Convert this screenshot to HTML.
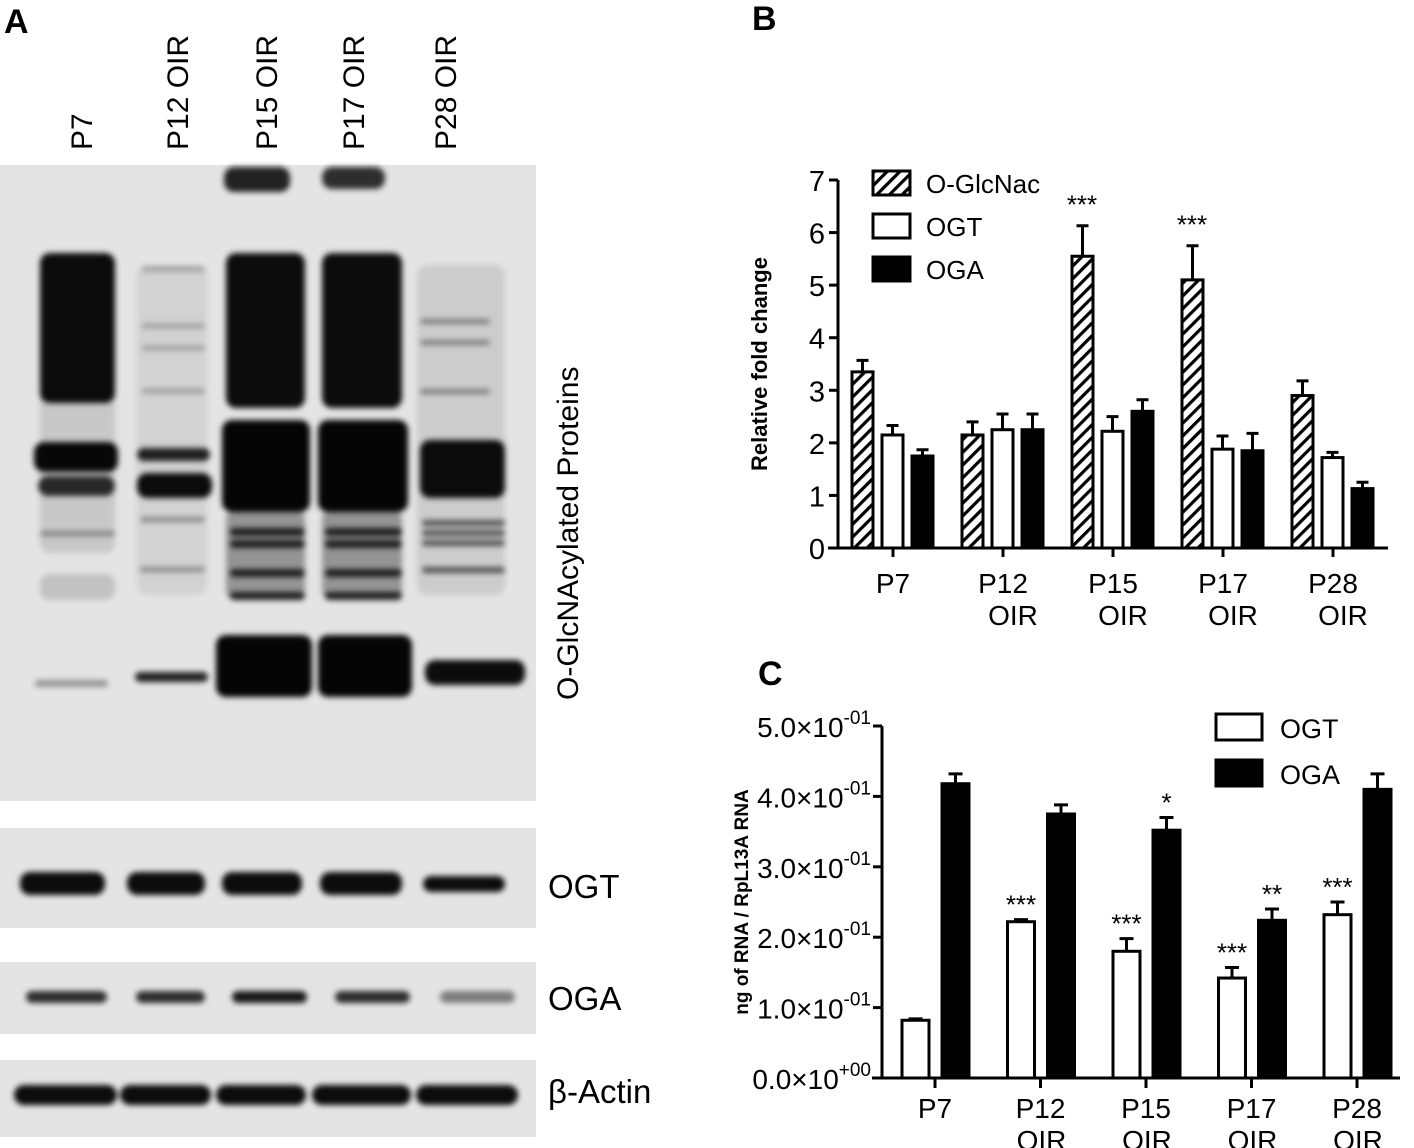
<!DOCTYPE html>
<html><head><meta charset="utf-8">
<style>
html,body{margin:0;padding:0;background:#fff;}
svg{display:block;font-family:"Liberation Sans",Arial,sans-serif;}
</style></head>
<body>
<svg id="fig" width="1414" height="1148" viewBox="0 0 1414 1148" xmlns="http://www.w3.org/2000/svg">
<defs>
  <filter id="b2" x="-20%" y="-50%" width="140%" height="200%"><feGaussianBlur stdDeviation="3"/></filter>
  <pattern id="hatch" patternUnits="userSpaceOnUse" width="9" height="9" patternTransform="rotate(45)">
    <rect width="9" height="9" fill="#fff"/>
    <rect x="0" y="0" width="3.2" height="9" fill="#000"/>
  </pattern>
</defs>

<!-- Panel A -->
<text x="4" y="33" font-size="34" font-weight="bold">A</text>
<g font-size="30">
  <text transform="translate(92,150) rotate(-90)">P7</text>
  <text transform="translate(188,150) rotate(-90)">P12 OIR</text>
  <text transform="translate(277,150) rotate(-90)">P15 OIR</text>
  <text transform="translate(364,150) rotate(-90)">P17 OIR</text>
  <text transform="translate(456,150) rotate(-90)">P28 OIR</text>
</g>

<g>
  <rect x="0" y="165" width="536" height="636" fill="#e4e4e4"/>
  <g id="mainBands" filter="url(#b2)"></g>
</g>
<g>
  <rect x="0" y="828" width="536" height="100" fill="#e4e4e4"/>
  <g id="ogtBands" filter="url(#b2)"></g>
</g>
<g>
  <rect x="0" y="962" width="536" height="72" fill="#e4e4e4"/>
  <g id="ogaBands" filter="url(#b2)"></g>
</g>
<g>
  <rect x="0" y="1060" width="536" height="77" fill="#e4e4e4"/>
  <g id="actinBands" filter="url(#b2)"></g>
</g>

<text transform="translate(578,700) rotate(-90)" font-size="30">O-GlcNAcylated Proteins</text>
<text x="548" y="898" font-size="33">OGT</text>
<text x="548" y="1010" font-size="33">OGA</text>
<text x="548" y="1103" font-size="33">β-Actin</text>

<!-- Panel B -->
<text x="752" y="30" font-size="34" font-weight="bold">B</text>
<g id="chartB"></g>

<!-- Panel C -->
<text x="758" y="685" font-size="34" font-weight="bold">C</text>
<g id="chartC"></g>
</svg>

<script>
// ---------- Chart B data ----------
const catsB = ["P7","P12 OIR","P15 OIR","P17 OIR","P28 OIR"];
const glcnacB = [3.35, 2.15, 5.55, 5.1, 2.9];
const glcnacErrB = [0.22, 0.25, 0.58, 0.65, 0.28];
const ogtB = [2.15, 2.25, 2.22, 1.88, 1.72];
const ogtErrB = [0.18, 0.3, 0.28, 0.25, 0.1];
const ogaB = [1.75, 2.25, 2.6, 1.85, 1.13];
const ogaErrB = [0.12, 0.3, 0.22, 0.33, 0.12];
const ticksB = [0,1,2,3,4,5,6,7];
const starsB = ["", "", "***", "***", ""];

// ---------- Chart C data ----------
const catsC = ["P7","P12 OIR","P15 OIR","P17 OIR","P28 OIR"];
const ogtC = [0.082, 0.222, 0.18, 0.142, 0.232];
const ogtErrC = [0.002, 0.003, 0.018, 0.015, 0.018];
const ogaC = [0.418, 0.375, 0.352, 0.224, 0.41];
const ogaErrC = [0.014, 0.013, 0.018, 0.016, 0.022];
const ticksC = [0, 0.1, 0.2, 0.3, 0.4, 0.5];
const tickLabelsC = ["0.0×10","1.0×10","2.0×10","3.0×10","4.0×10","5.0×10"];
const tickExpC = ["+00","-01","-01","-01","-01","-01"];
const ogtStarsC = ["", "***", "***", "***", "***"];
const ogaStarsC = ["", "", "*", "**", ""];

const NS = "http://www.w3.org/2000/svg";
function mk(tag, attrs, parent){
  const e = document.createElementNS(NS, tag);
  for (const k in attrs) e.setAttribute(k, attrs[k]);
  parent.appendChild(e);
  return e;
}

// ---------- Blot bands (image, not data) ----------
const main = document.getElementById('mainBands');
function band(g, x1, x2, y, h, op, name){
  const r = mk('rect', {x:x1, y:y, width:x2-x1, height:h, rx:Math.min(h/2,10), fill:'#000', opacity:op}, g);
  
  
}
band(main,40,115,253,300,0.12,'lane-smear');
band(main,137,207,265,330,0.08,'lane-smear');
band(main,417,505,265,330,0.1,'lane-smear');
band(main,224,290,167,25,0.85,'well-band');
band(main,322,385,167,22,0.8,'well-band');
band(main,40,115,253,150,0.95,'dense-band');
band(main,226,305,253,155,0.95,'dense-band');
band(main,322,402,253,155,0.95,'dense-band');
[267,324,346,389].forEach(y=>band(main,142,205,y,4,0.3,'faint-band'));
[319,340,389].forEach(y=>band(main,420,490,y,5,0.4,'faint-band'));
band(main,34,118,442,30,0.97,'mid-band');
band(main,38,115,476,20,0.8,'mid-band');
band(main,137,210,448,13,0.85,'mid-band');
band(main,137,212,473,25,0.95,'mid-band');
band(main,222,310,420,92,0.98,'mid-band');
band(main,318,408,420,92,0.98,'mid-band');
band(main,420,505,440,58,0.95,'mid-band');
band(main,40,115,531,5,0.35,'low-band');
band(main,40,115,574,26,0.15,'low-band');
[517,567].forEach(y=>band(main,140,205,y,5,0.35,'low-band'));
[528,540,569,592].forEach(y=>{band(main,230,305,y,8,0.8,'low-band');band(main,325,402,y,8,0.8,'low-band');});
band(main,226,305,510,90,0.35,'low-band');
band(main,322,402,510,90,0.35,'low-band');
[520,530,540,567].forEach(y=>band(main,422,505,y,6,0.6,'low-band'));
band(main,216,312,635,62,0.98,'bottom-band');
band(main,318,412,635,62,0.98,'bottom-band');
band(main,425,525,660,25,0.95,'bottom-band');
band(main,135,208,672,10,0.85,'bottom-band');
band(main,35,108,680,7,0.35,'bottom-band');

const ogtG = document.getElementById('ogtBands');
[[20,105],[127,205],[222,302],[320,402],[423,505]].forEach((l,i)=>band(ogtG,l[0],l[1],i==4?876:872,i==4?16:23,0.95,'ogt-band'));
const ogaG = document.getElementById('ogaBands');
[[26,107,0.8],[136,205,0.8],[232,307,0.9],[335,410,0.8],[440,515,0.45]].forEach(l=>band(ogaG,l[0],l[1],991,12,l[2],'oga-band'));
const actG = document.getElementById('actinBands');
[[14,117],[120,211],[216,306],[312,411],[416,518]].forEach(l=>band(actG,l[0],l[1],1085,20,0.95,'actin-band'));

// ---------- Chart B ----------
(function(){
  const g = document.getElementById('chartB');
  const y0 = 548, yTop = 180, vMax = 7;
  const yS = v => y0 - v*(y0-yTop)/vMax;
  const xC = i => 893 + i*110;
  const ya = mk('line',{x1:838,y1:yTop,x2:838,y2:y0,stroke:'#000','stroke-width':3},g);
   
  const xa = mk('line',{x1:828,y1:y0,x2:1388,y2:y0,stroke:'#000','stroke-width':3},g);
   
  ticksB.forEach(t=>{
    const y = yS(t);
    const tk = mk('line',{x1:829,y1:y,x2:838,y2:y,stroke:'#000','stroke-width':3},g);
     
    const tl = mk('text',{x:825,y:y+11,'font-size':29,'text-anchor':'end'},g);
    tl.textContent = t;
     
  });
  const yt = mk('text',{transform:'translate(767,364) rotate(-90)','font-size':22,'font-weight':'bold','text-anchor':'middle'},g);
  yt.textContent = 'Relative fold change';
   
  catsB.forEach((c,i)=>{
    const x = xC(i);
    const tk = mk('line',{x1:x,y1:y0,x2:x,y2:y0+9,stroke:'#000','stroke-width':3},g);
     
    c.split(' ').forEach((p,j)=>{
      const t = mk('text',{x:x+(j==0?0:10),y:593+j*32,'font-size':28,'text-anchor':'middle'},g);
      t.textContent = p;
       
    });
  });
  const series = [[glcnacB,glcnacErrB,'url(#hatch)',-41,'bar-o-glcnac'],[ogtB,ogtErrB,'#fff',-11,'bar-ogt'],[ogaB,ogaErrB,'#000',19,'bar-oga']];
  series.forEach(s=>{
    s[0].forEach((v,i)=>{
      const x = xC(i)+s[3], w = 21, cx = x+w/2;
      const e = mk('path',{d:`M${cx},${yS(v)} V${yS(v+s[1][i])} M${cx-6},${yS(v+s[1][i])} H${cx+6}`,stroke:'#000','stroke-width':3,fill:'none'},g);
       
      const r = mk('rect',{x:x,y:yS(v),width:w,height:y0-yS(v),fill:s[2],stroke:'#000','stroke-width':3},g);
       
    });
  });
  starsB.forEach((s,i)=>{
    if(!s) return;
    const t = mk('text',{x:xC(i)-31,y:yS(glcnacB[i]+glcnacErrB[i])-12,'font-size':26,'text-anchor':'middle'},g);
    t.textContent = s;
     
  });
  const leg = [['url(#hatch)','O-GlcNac',171],['#fff','OGT',214],['#000','OGA',257]];
  leg.forEach(l=>{
    const r = mk('rect',{x:873,y:l[2],width:37,height:24,fill:l[0],stroke:'#000','stroke-width':3},g);
     
    const t = mk('text',{x:926,y:l[2]+22,'font-size':26},g);
    t.textContent = l[1];
     
  });
})();

// ---------- Chart C ----------
(function(){
  const g = document.getElementById('chartC');
  const y0 = 1078, yTop = 726, vMax = 0.5;
  const yS = v => y0 - v*(y0-yTop)/vMax;
  const xC = i => 935 + i*105.5;
  const ya = mk('line',{x1:882,y1:yTop,x2:882,y2:y0,stroke:'#000','stroke-width':3},g);
   
  const xa = mk('line',{x1:872,y1:y0,x2:1400,y2:y0,stroke:'#000','stroke-width':3},g);
   
  ticksC.forEach((t,k)=>{
    const y = yS(t);
    const tk = mk('line',{x1:873,y1:y,x2:882,y2:y,stroke:'#000','stroke-width':3},g);
     
    const tl = mk('text',{x:871,y:y+11,'font-size':28,'text-anchor':'end'},g);
    const a = document.createElementNS(NS,'tspan'); a.textContent = tickLabelsC[k]; tl.appendChild(a);
    const b = document.createElementNS(NS,'tspan'); b.setAttribute('dy','-13'); b.setAttribute('font-size','19'); b.textContent = tickExpC[k]; tl.appendChild(b);
     
  });
  const yt = mk('text',{transform:'translate(748,902) rotate(-90)','font-size':19,'font-weight':'bold','text-anchor':'middle'},g);
  yt.textContent = 'ng of RNA / RpL13A RNA';
   
  catsC.forEach((c,i)=>{
    const x = xC(i);
    const tk = mk('line',{x1:x,y1:y0,x2:x,y2:y0+10,stroke:'#000','stroke-width':3},g);
     
    c.split(' ').forEach((p,j)=>{
      const t = mk('text',{x:x+(j==0?0:1),y:1118+j*32,'font-size':28,'text-anchor':'middle'},g);
      t.textContent = p;
       
    });
  });
  const series = [[ogtC,ogtErrC,'#fff',-33,'bar-ogt',ogtStarsC],[ogaC,ogaErrC,'#000',7,'bar-oga',ogaStarsC]];
  series.forEach(s=>{
    s[0].forEach((v,i)=>{
      const x = xC(i)+s[3], w = 27, cx = x+w/2;
      const top = yS(v+s[1][i]);
      const e = mk('path',{d:`M${cx},${yS(v)} V${top} M${cx-7},${top} H${cx+7}`,stroke:'#000','stroke-width':3,fill:'none'},g);
       
      const r = mk('rect',{x:x,y:yS(v),width:w,height:y0-yS(v),fill:s[2],stroke:'#000','stroke-width':3},g);
       
      if (s[5][i]) {
        const t = mk('text',{x:cx,y:top-6,'font-size':26,'text-anchor':'middle'},g);
        t.textContent = s[5][i];
         
      }
    });
  });
  const leg = [['#fff','OGT',714],['#000','OGA',760]];
  leg.forEach(l=>{
    const r = mk('rect',{x:1216,y:l[2],width:46,height:26,fill:l[0],stroke:'#000','stroke-width':3},g);
     
    const t = mk('text',{x:1280,y:l[2]+24,'font-size':27},g);
    t.textContent = l[1];
     
  });
})();
</script>
</body></html>
